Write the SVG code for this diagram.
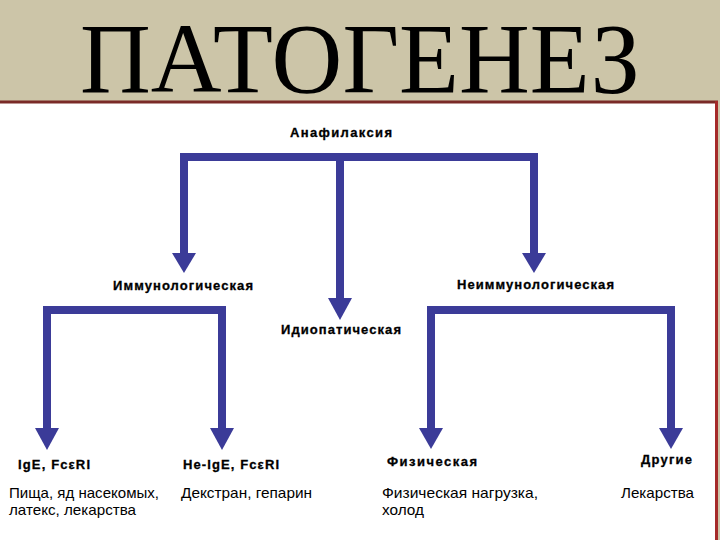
<svg xmlns="http://www.w3.org/2000/svg" width="720" height="540" viewBox="0 0 720 540">
<style>
.conn{fill:none;stroke:#3b3b98;stroke-width:8;stroke-linejoin:miter}
.head{fill:#3b3b98}
.lbl{font-family:"Liberation Sans",Arial,sans-serif;font-weight:bold;font-size:13px;fill:#000;stroke:#000;stroke-width:0.3}
.txt{font-family:"Liberation Sans",Arial,sans-serif;font-size:15px;fill:#000}
.title{font-family:"Liberation Serif","Times New Roman",serif;font-size:100px;fill:#000}
</style>
<rect x="0" y="0" width="720" height="540" fill="#ccc5a8"/>
<rect x="0" y="102" width="716" height="438" fill="#ffffff"/>
<line x1="0" y1="102" x2="718" y2="102" stroke="#7a2b27" stroke-width="3"/>
<line x1="716.5" y1="101" x2="716.5" y2="540" stroke="#a52a2a" stroke-width="3"/>
<text class="title" x="80" y="92" textLength="560" lengthAdjust="spacingAndGlyphs">ПАТОГЕНЕЗ</text>
<g id="connectors">
<path class="conn" d="M184,255 V157 H534 V255"/>
<path class="conn" d="M340,157 V300"/>
<polygon class="head" points="172,253 196,253 184,273"/>
<polygon class="head" points="328,298 352,298 340,320"/>
<polygon class="head" points="522,253 546,253 534,273"/>
<path class="conn" d="M47,430 V310 H222 V430"/>
<polygon class="head" points="35,428 59,428 47,450"/>
<polygon class="head" points="210,428 234,428 222,450"/>
<path class="conn" d="M431,430 V310 H671 V430"/>
<polygon class="head" points="419,428 443,428 431,449"/>
<polygon class="head" points="659,428 683,428 671,449"/>
</g>
<g id="anaphylaxis"><text class="lbl" x="290" y="137" textLength="102" lengthAdjust="spacing">Анафилаксия</text></g>
<g id="immunological"><text class="lbl" x="113" y="290" textLength="140" lengthAdjust="spacing">Иммунологическая</text></g>
<g id="nonimmunological"><text class="lbl" x="457" y="289" textLength="157" lengthAdjust="spacing">Неиммунологическая</text></g>
<g id="idiopathic"><text class="lbl" x="281" y="334" textLength="120" lengthAdjust="spacing">Идиопатическая</text></g>
<g id="ige">
<text class="lbl" x="18" y="469" textLength="72" lengthAdjust="spacing">IgE, FcεRI</text>
<text class="txt" x="9" y="498" textLength="150" lengthAdjust="spacingAndGlyphs">Пища, яд насекомых,</text>
<text class="txt" x="9" y="515" textLength="127" lengthAdjust="spacingAndGlyphs">латекс, лекарства</text>
</g>
<g id="non-ige">
<text class="lbl" x="183" y="469" textLength="96" lengthAdjust="spacing">Не-IgE, FcεRI</text>
<text class="txt" x="181" y="498" textLength="131" lengthAdjust="spacingAndGlyphs">Декстран, гепарин</text>
</g>
<g id="physical">
<text class="lbl" x="387" y="466" textLength="90" lengthAdjust="spacing">Физическая</text>
<text class="txt" x="382" y="498" textLength="156" lengthAdjust="spacingAndGlyphs">Физическая нагрузка,</text>
<text class="txt" x="382" y="515" textLength="42" lengthAdjust="spacingAndGlyphs">холод</text>
</g>
<g id="other">
<text class="lbl" x="641" y="464" textLength="51" lengthAdjust="spacing">Другие</text>
<text class="txt" x="621" y="498" textLength="73" lengthAdjust="spacingAndGlyphs">Лекарства</text>
</g>
</svg>
